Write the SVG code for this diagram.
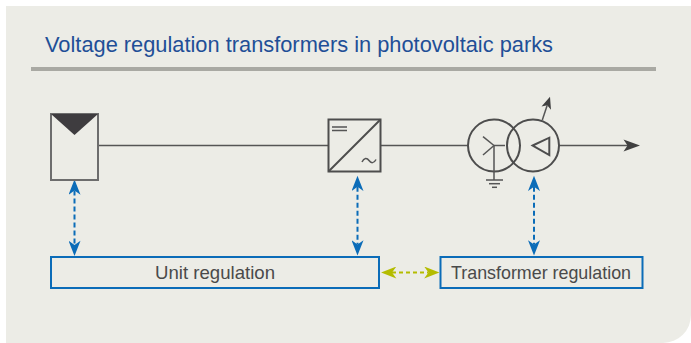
<svg xmlns="http://www.w3.org/2000/svg" width="691" height="343" viewBox="0 0 691 343">
  <style>
    .sym { fill: none; stroke: #4d4d4d; stroke-width: 2; }
    .wire { fill: none; stroke: #555555; stroke-width: 1.5; }
    .box { fill: none; stroke: #0b6cb8; stroke-width: 2; }
    .lbl { font-family: "Liberation Sans", Arial, sans-serif; font-size: 19px; fill: #4a4a4a; text-anchor: middle; }
    .blue { fill: none; stroke: #0b6cb8; stroke-width: 2; stroke-dasharray: 5 3; marker-start: url(#ab); marker-end: url(#ab); }
    .green { fill: none; stroke: #b4bc00; stroke-width: 2; stroke-dasharray: 4 3; marker-start: url(#ag); marker-end: url(#ag); }
  </style>
  <defs>
    <marker id="ab" markerUnits="userSpaceOnUse" markerWidth="16" markerHeight="12" viewBox="0 0 14 11" refX="4" refY="5.5" orient="auto-start-reverse">
      <path d="M0,0 L14,5.5 L0,11 L4,5.5 Z" fill="#0b6cb8"/>
    </marker>
    <marker id="ag" markerUnits="userSpaceOnUse" markerWidth="16" markerHeight="12" viewBox="0 0 14 11" refX="4" refY="5.5" orient="auto-start-reverse">
      <path d="M0,0 L14,5.5 L0,11 L4,5.5 Z" fill="#b4bc00"/>
    </marker>
  </defs>

  <g id="background">
    <rect x="0" y="0" width="691" height="343" fill="#ffffff"/>
    <path d="M6,6 H691 V315 A28,28 0 0 1 663,343 H6 Z" fill="#ecece6"/>
  </g>

  <g id="title">
    <text x="45" y="52" font-family="'Liberation Sans', Arial, sans-serif" font-size="22.5" fill="#1f4f97" textLength="508" lengthAdjust="spacingAndGlyphs">Voltage regulation transformers in photovoltaic parks</text>
    <rect x="31" y="67" width="625" height="4" fill="#a9a9a3"/>
  </g>

  <g id="connectors">
    <line class="wire" x1="98" y1="145.5" x2="328.5" y2="145.5"/>
    <line class="wire" x1="380.5" y1="145.5" x2="468" y2="145.5"/>
    <line class="wire" x1="559" y1="145.5" x2="628" y2="145.5"/>
    <polygon points="640,145.5 623.5,139.5 627.5,145.5 623.5,151.5" fill="#404040"/>
    <line class="blue" x1="74.5" y1="190.5" x2="74.5" y2="245"/>
    <line class="blue" x1="357.5" y1="186.7" x2="357.5" y2="244.5"/>
    <line class="blue" x1="534" y1="186.7" x2="534" y2="244.5"/>
    <line class="green" x1="392" y1="272.5" x2="428.5" y2="272.5"/>
  </g>

  <g id="pv-module">
    <rect x="51" y="114" width="47" height="66" fill="none" stroke="#6d6d6d" stroke-width="2"/>
    <polygon points="51,114 98,114 74.5,135" fill="#3e3c3f"/>
  </g>

  <g id="inverter">
    <rect class="sym" x="328.5" y="119.5" width="52" height="52"/>
    <line class="sym" x1="328.5" y1="171.5" x2="380.5" y2="119.5"/>
    <line class="wire" x1="332" y1="127" x2="347" y2="127"/>
    <line class="wire" x1="332" y1="130.5" x2="347" y2="130.5"/>
    <path class="wire" d="M362,162 C364,157.5 367,157.5 369,160.5 C371,163.5 374,163.5 376,159.5"/>
  </g>

  <g id="transformer">
    <circle class="sym" cx="494" cy="145.5" r="26"/>
    <circle class="sym" cx="533" cy="145.5" r="26"/>
    <line class="wire" x1="494" y1="145.5" x2="505" y2="145.5"/>
    <line class="wire" x1="494" y1="145.5" x2="483" y2="136.7"/>
    <line class="wire" x1="494" y1="145.5" x2="483" y2="155"/>
    <line class="wire" x1="494" y1="145.5" x2="494" y2="180"/>
    <line class="wire" x1="486" y1="180" x2="503" y2="180"/>
    <line class="wire" x1="489" y1="183.7" x2="500" y2="183.7"/>
    <line class="wire" x1="492" y1="187.3" x2="497" y2="187.3"/>
    <polygon class="sym" points="532.7,145.5 549.3,137.7 549.3,155"/>
    <line class="wire" x1="542.3" y1="120" x2="547.2" y2="105.3"/>
    <polygon points="550,96.7 541.5,106.5 547.2,105.3 551,109.7" fill="#404040"/>
  </g>

  <g id="unit-regulation">
    <rect class="box" x="51" y="257" width="328" height="31"/>
    <text class="lbl" x="215" y="279" textLength="120" lengthAdjust="spacingAndGlyphs">Unit regulation</text>
  </g>

  <g id="transformer-regulation">
    <rect class="box" x="440.5" y="257" width="202" height="31"/>
    <text class="lbl" x="541" y="279" textLength="180" lengthAdjust="spacingAndGlyphs">Transformer regulation</text>
  </g>
</svg>
